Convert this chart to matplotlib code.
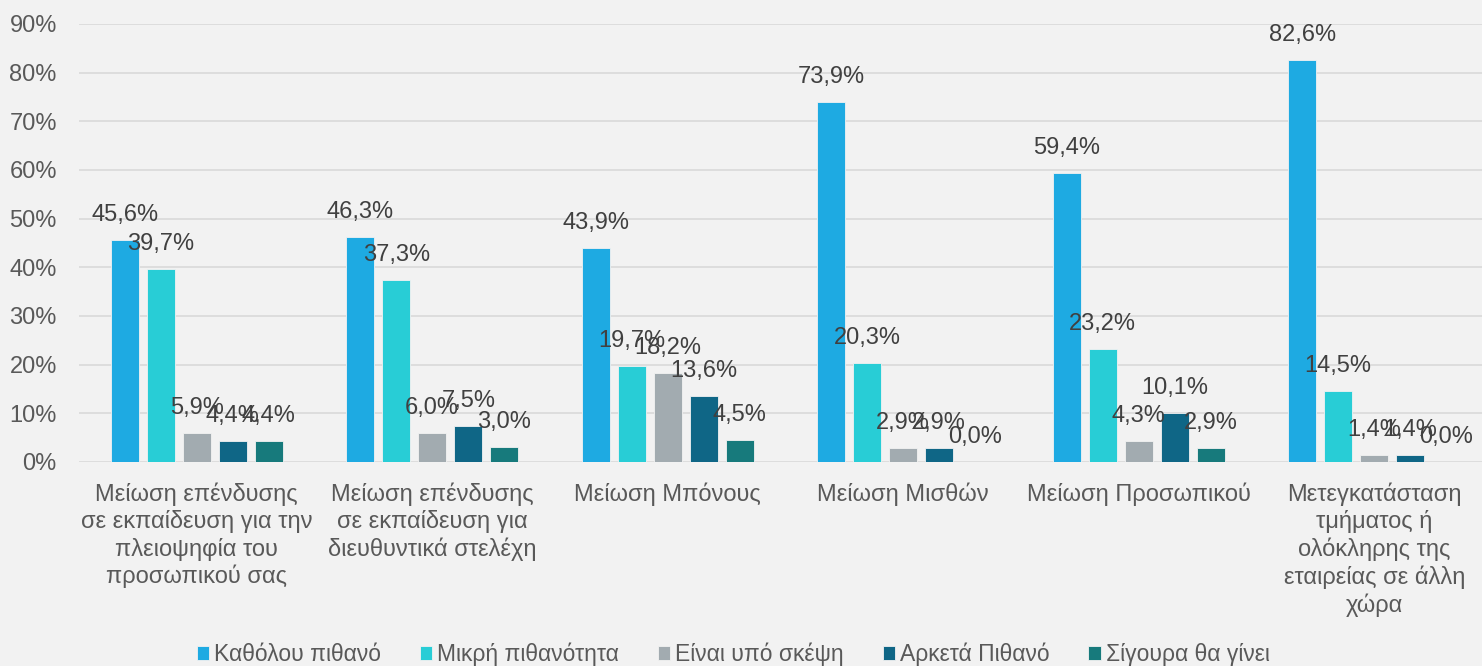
import numpy as np
import matplotlib.pyplot as plt

plt.rcParams['font.family'] = ['Liberation Sans', 'DejaVu Sans']

categories = [
    "Μείωση επένδυσης\nσε εκπαίδευση για την\nπλειοψηφία του\nπροσωπικού σας",
    "Μείωση επένδυσης\nσε εκπαίδευση για\nδιευθυντικά στελέχη",
    "Μείωση Μπόνους",
    "Μείωση Μισθών",
    "Μείωση Προσωπικού",
    "Μετεγκατάσταση\nτμήματος ή\nολόκληρης της\nεταιρείας σε άλλη\nχώρα",
]
series_names = ["Καθόλου πιθανό", "Μικρή πιθανότητα", "Είναι υπό σκέψη",
                "Αρκετά Πιθανό", "Σίγουρα θα γίνει"]
kathólou = [45.6, 46.3, 43.9, 73.9, 59.4, 82.6]
mikri = [39.7, 37.3, 19.7, 20.3, 23.2, 14.5]
skepsi = [5.9, 6.0, 18.2, 2.9, 4.3, 1.4]
arketa = [4.4, 7.5, 13.6, 2.9, 10.1, 1.4]
sigoura = [4.4, 3.0, 4.5, 0.0, 2.9, 0.0]
values = [kathólou, mikri, skepsi, arketa, sigoura]
colors = ["#1eaae2", "#28cdd6", "#a2abb0", "#0f6686", "#177a7c"]

bg = "#f2f2f2"
fig = plt.figure(figsize=(14.82, 6.66), dpi=100, facecolor=bg)
ax = fig.add_axes([79 / 1482, 204 / 666, 1413 / 1482, 438 / 666])
ax.set_facecolor(bg)

x = np.arange(len(categories))
step = 0.153
width = 0.119
for i, (name, vals, col) in enumerate(zip(series_names, values, colors)):
    pos = x + (i - 2) * step
    bars = ax.bar(pos, vals, width, color=col, label=name, zorder=3,
                  edgecolor="#f2f2f2", linewidth=0.6)
    for b, v in zip(bars, vals):
        ax.annotate(f"{v:.1f}%".replace(".", ","),
                    (b.get_x() + b.get_width() / 2, v),
                    xytext=(0, 18), textcoords="offset points",
                    ha="center", va="center", fontsize=17, color="#404040",
                    zorder=4)

ax.set_ylim(0, 90)
ax.set_xlim(-0.5, 5.5)
ax.set_yticks(range(0, 91, 10))
ax.set_yticklabels([f"{t}%" for t in range(0, 91, 10)])
ax.grid(axis="y", color="#d9d9d9", linewidth=1.2, zorder=0)
ax.set_axisbelow(True)
for s in ax.spines.values():
    s.set_visible(False)
ax.tick_params(axis="y", length=0, pad=16, labelsize=17, labelcolor="#595959")
ax.tick_params(axis="x", length=0, pad=15, labelsize=17, labelcolor="#595959")
ax.set_xticks(x)
ax.set_xticklabels(categories, linespacing=1.23, va="top")

fig.legend(loc="center", bbox_to_anchor=(733 / 1482, 12 / 666), ncol=5,
           frameon=False, fontsize=16.5, handlelength=0.55, handleheight=0.55,
           handletextpad=0.2, columnspacing=1.7, labelcolor="#595959")

fig.savefig("out.png", dpi=100, facecolor=bg)
